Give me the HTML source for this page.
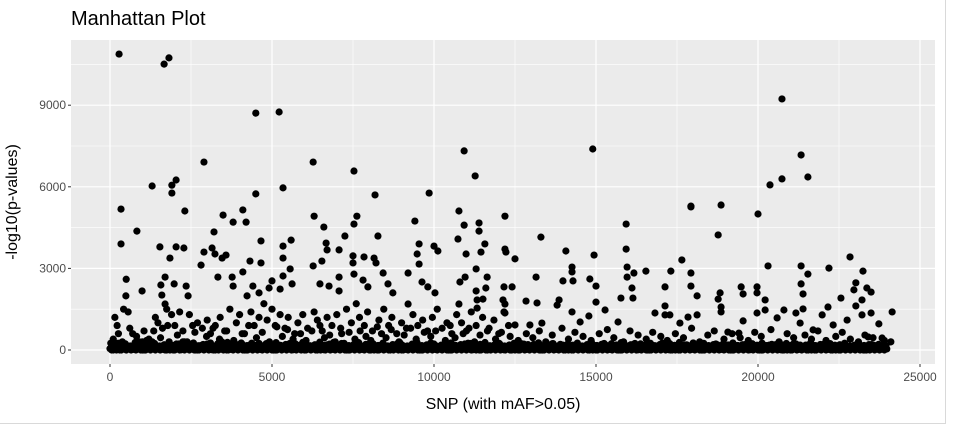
<!DOCTYPE html>
<html><head><meta charset="utf-8"><style>
html,body{margin:0;padding:0;background:#fff;}
svg{display:block;font-family:"Liberation Sans",sans-serif;}
</style></head><body>
<svg id="chart" width="953" height="427" viewBox="0 0 953 427">
<line x1="945.5" y1="0" x2="945.5" y2="424" stroke="#d9d9d9"/>
<line x1="0" y1="423.5" x2="946" y2="423.5" stroke="#d9d9d9"/>
<text x="71" y="25" font-size="20" fill="#000">Manhattan Plot</text>
<rect x="71" y="40" width="864" height="324" fill="#EBEBEB"/>
<g id="grid"></g>
<g id="points"></g>
<g id="axes"></g>
<text x="503" y="409" font-size="16" text-anchor="middle" fill="#000">SNP (with mAF&gt;0.05)</text>
<text transform="translate(17,202) rotate(-90)" font-size="16" text-anchor="middle" fill="#000">-log10(p-values)</text>
</svg>
<script>
const xTicks=[0,5000,10000,15000,20000,25000];
const xMinor=[2500,7500,12500,17500,22500];
const yTicks=[0,3000,6000,9000];
const yMinor=[1500,4500,7500,10500];
const baseStep=150;
const baseVals=[50,120,0,200,80,30,150,0,250,60,100,20,180,0,90,300,40,140,0,60,220,10,110,70,0,160,40,260,0,90,130,20,200,50,0,170,80,240,30,110,0,150,60,200,10,90,280,40,130,0,70,190,20,110,240,0,60,150,30,210,0,100,170,50,0,130,260,20,80,190,0,60,140,220,30,100,0,180,50,120,250,10,90,160,0,70,200,40,130,0,110,230,20,80,170,0,60,140,50,210,0,100,180,30,120,0,160,70,240,20,90,0,150,60,200,10,110,0,170,40,260,80,0,130,50,190,20,100,0,150,70,220,30,90,0,160,50,200,10,120,0,80,180,40,140,0,60,230,20,110,0,170,50,90,200,0,60,130,30,100];
const lowX=[100,260,380,610,820,1130,1350,1560,1780,2080,2380,2620,2980,3180,3380,3540,3820,4080,4280,4520,4700,4920,5150,5320,5480,5650,5880,6050,6230,6480,6620,6780,6950,7120,7380,7560,7720,7900,8050,8250,8380,8520,8680,8920,9080,9280,9450,9700,9900,10050,10350,10500,10650,10900,11080,11250,11420,11650,11900,12080,12350,12600,12850,13050,13250,13450,13650,13950,14150,14350,14600,14850,15100,15350,15550,15850,16050,16300,16550,16750,17000,17200,17450,17700,17950,18200,18450,18650,18950,19200,19450,19700,19900,20100,20400,20650,20900,21100,21450,21650,21850,22100,22400,22600,22850,23100,23300,23550,23900,24100];
const lowVals=[400,600,300,800,500,350,700,450,900,550,300,650,500,800,400,700,350,600,900,450,650,300,850,500,750,400,600,350,700,900,450,550,300,800,650,400,700,500,350,850,600,450,750,300,550,800,400,650,500,700,350,900,450,600,800,300,550,700,400,650,500,350,600,450,700,300,550,800,400,650,500,350,600,750,450,300,700,550,400,650,500,350,600,450,800,300,550,700,400,600,450,350,650,500,750,300,600,450,550,400,700,350,500,650,400,300,550,450,350,300];
const snpX=[280,1670,1820,4500,5220,2900,6270,7530,10930,11270,1300,2040,1910,1910,4500,5340,8180,9850,340,2310,4100,3490,3800,4200,6300,6600,7620,7530,7250,8270,9410,10770,10930,11390,11390,12190,830,3210,4660,5590,340,1540,2040,2280,1850,2900,3150,3240,3460,3580,2810,4320,4660,5340,5340,6670,6700,7070,6270,6540,7500,7500,7840,8150,8210,9540,9480,9540,10000,10120,10990,11450,11570,12190,12220,10740,
1700,1570,1980,2350,1600,2410,1700,990,490,3330,3770,4100,3800,4410,4600,4230,5000,5250,5340,5560,5620,4910,6480,6760,7070,7070,7530,7810,7960,8430,8580,8730,9200,9630,9810,10030,10800,10960,11300,11640,11600,11300,12160,12130,12160,9200,10770,11330,11330,11510,
20740,14900,21330,20740,20370,21540,17930,17930,18860,20000,18770,15930,13300,15930,14070,14940,17650,12500,22840,20310,21330,22190,23240,14260,14260,15960,16170,16540,17310,17930,21540,13150,14810,15000,15960,16110,13980,14290,12410,17130,17930,18120,19480,19540,19970,19970,20220,21330,21390,23020,22960,23360,23490,22560,23210,23020,24140,23490,23730,22160,21980,20800,21170,21390,18830,18770,18860,18860,16140,15770,17130,17130,15000,15280,14780,14260,13860,13800,13180,12840,12190,12190,12500,12960,13330,14510,15680,16820,17280,17590,17840,18120,19070,19410,19540,20220,19970,20590,21300,21700,22320,22750,23210,23400,23830,
150,220,420,560,700,900,1050,1200,1400,1480,1620,1750,1900,2000,2150,2250,2450,2550,2700,2850,3000,3100,3250,3400,3600,3700,3900,4000,4150,4350,4450,4600,4750,4850,5000,5100,5250,5400,5500,5700,5800,5950,6100,6300,6400,6550,6700,6850,7000,7150,7300,7450,7600,7700,7850,7950,8100,8300,8450,8600,8700,8850,9000,9150,9350,9500,9650,9800,9950,10100,10250,10400,10550,10700,10850,11000,11150,11300,11500,11700,11850,12000,12300,500,1000,3450,2300];
const logP=[10880,10510,10740,8710,8750,6910,6910,6580,7320,6400,6030,6250,6060,5770,5740,5960,5700,5770,5180,5110,5150,4960,4700,4700,4920,4520,4920,4630,4190,4190,4740,5110,4590,4670,4370,4920,4370,4340,4010,4040,3900,3790,3790,3750,3380,3600,3750,3530,3380,3490,3120,3270,3200,3820,3380,3930,3680,3680,3090,3270,3460,3200,3420,3380,3200,3900,3530,3160,3820,3640,3530,3600,3900,3710,3600,4080,
2680,2390,2430,2350,2020,1990,1690,2170,1990,2680,2680,2870,2350,2350,2100,1990,2540,2240,2720,2980,2430,2280,2430,2350,2680,2170,2790,2570,2320,2830,2430,2100,2830,2500,2320,2100,2500,2680,2980,2680,2280,2170,2320,1840,1400,1690,1690,1840,1540,1870,
9230,7390,7170,6290,6070,6360,5290,5260,5330,5000,4230,4630,4150,3710,3640,3490,3310,3350,3420,3090,3090,3010,2900,3050,2870,3050,2830,2900,2900,2830,2790,2680,2610,2350,2680,2280,2540,2540,2320,2320,2350,1990,2320,2060,2320,2100,1840,2430,2060,2470,2210,2280,2130,1910,1840,1620,1400,1360,960,1580,1290,1470,1360,1510,2100,1870,1580,1400,1910,1910,1620,1290,1760,1470,1250,1400,1840,1650,1730,1800,1690,1360,920,920,990,1030,1030,1360,1290,990,1210,1290,660,620,1070,1470,1360,1180,990,740,920,1100,1290,480,440,
1200,900,1500,1400,600,300,700,400,1200,1000,800,1500,1300,900,1400,700,1300,900,1000,800,1100,600,900,1200,700,1500,1000,1300,600,1400,900,1200,1700,1100,1500,900,1300,800,1200,600,1000,1300,800,1400,1100,700,1200,900,1300,600,1500,1000,1700,1200,900,1400,700,1100,1500,900,1200,600,1000,800,1300,900,1100,700,1200,1500,800,1000,600,1300,1000,700,1400,900,1200,800,1100,600,900,2600,300,300,300];

const NS='http://www.w3.org/2000/svg';
const L=71,R=935,T=40,B=364;
function sx(v){return 110+(v-0)*(162/5000);}
function sy(v){return 350-v*(27.2/1000);}
const grid=document.getElementById('grid');
const pts=document.getElementById('points');
const axes=document.getElementById('axes');
function mk(tag,attrs,parent){const e=document.createElementNS(NS,tag);for(const k in attrs)e.setAttribute(k,attrs[k]);parent.appendChild(e);return e;}
yMinor.forEach(v=>{const l=mk('line',{x1:L,x2:R,y1:sy(v),y2:sy(v),stroke:'#fff','stroke-width':0.6},grid);

});
xMinor.forEach(v=>{const l=mk('line',{x1:sx(v),x2:sx(v),y1:T,y2:B,stroke:'#fff','stroke-width':0.6},grid);

});
yTicks.forEach(v=>{const y=sy(v);
const l=mk('line',{x1:L,x2:R,y1:y,y2:y,stroke:'#fff','stroke-width':1.2},grid);


const t=mk('line',{x1:L-3,x2:L,y1:y,y2:y,stroke:'#333','stroke-width':1},axes);


const tx=mk('text',{x:L-5,y:y+4,'text-anchor':'end','font-size':12,fill:'#4D4D4D'},axes);tx.textContent=v;

});
xTicks.forEach(v=>{const x=sx(v);
const l=mk('line',{x1:x,x2:x,y1:T,y2:B,stroke:'#fff','stroke-width':1.2},grid);


const t=mk('line',{x1:x,x2:x,y1:B,y2:B+3,stroke:'#333','stroke-width':1},axes);


const tx=mk('text',{x:x,y:B+17,'text-anchor':'middle','font-size':12,fill:'#4D4D4D'},axes);tx.textContent=v;

});
const nb=baseVals.length;
baseVals.forEach((v,i)=>{
const c=mk('circle',{cx:sx(i*baseStep),cy:sy(v),r:3.6,fill:'#000'},pts);


const c2=mk('circle',{cx:sx(i*baseStep+50),cy:sy(0),r:3.6,fill:'#000'},pts);


const c3=mk('circle',{cx:sx(i*baseStep+100),cy:sy(baseVals[(i+7)%nb]),r:3.6,fill:'#000'},pts);


const c4=mk('circle',{cx:sx(i*baseStep+25),cy:sy(baseVals[(i+3)%nb]*0.5+150),r:3.6,fill:'#000'},pts);


const c5=mk('circle',{cx:sx(i*baseStep+75),cy:sy(100),r:3.6,fill:'#000'},pts);


const c6=mk('circle',{cx:sx(i*baseStep+125),cy:sy(40),r:3.6,fill:'#000'},pts);

});
lowX.forEach((x,i)=>{const c=mk('circle',{cx:sx(x),cy:sy(lowVals[i]),r:3.6,fill:'#000'},pts);

});
snpX.forEach((x,i)=>{const c=mk('circle',{cx:sx(x),cy:sy(logP[i]),r:3.6,fill:'#000'},pts);

});
</script>
</body></html>
